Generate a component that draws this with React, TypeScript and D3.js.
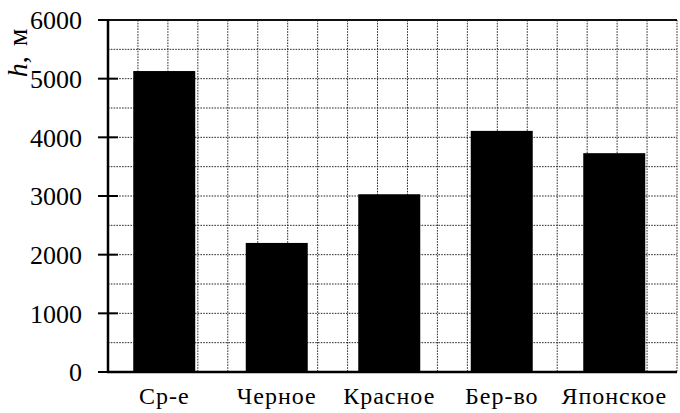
import React from "react";
import * as d3 from "d3";

// Mean sea depths, metres
const seas = ["Ср-е", "Черное", "Красное", "Бер-во", "Японское"];
const depths = [5130, 2200, 3030, 4110, 3730];
const yTicks = [0, 1000, 2000, 3000, 4000, 5000, 6000];
const yGridSteps = d3.range(0, 6001, 500);
const xGridSteps = d3.range(0, 20);

const W = 680;
const H = 413;
const left = 108;
const right = 677;
const top = 20;
const bottom = 372;

export default function App() {
  const y = d3.scaleLinear().domain([0, 6000]).range([bottom, top]);
  const x = d3
    .scaleBand<string>()
    .domain(seas)
    .range([left, 670.5])
    .paddingInner(0.449)
    .paddingOuter(0.2245);
  const gx = d3.scaleLinear().domain([0, 19]).range([left, right]);

  const font = "'Liberation Serif', 'Times New Roman', serif";
  const grid = { stroke: "#2a2a2a", strokeWidth: 1, strokeDasharray: "1.6,1.2" };

  return (
    <svg
      width={W}
      height={H}
      style={{ position: "absolute", left: 0, top: 0, background: "#fff" }}
      fontFamily={font}
    >
      {/* grid */}
      {xGridSteps.slice(1).map((i) => (
        <line key={"gx" + i} x1={gx(i)} x2={gx(i)} y1={top} y2={bottom} {...grid} />
      ))}
      {yGridSteps.slice(1, -1).map((v) => (
        <line key={"gy" + v} x1={left} x2={right} y1={y(v)} y2={y(v)} {...grid} />
      ))}

      {/* bars */}
      {seas.map((s, i) => (
        <rect
          key={s}
          x={x(s)}
          y={y(depths[i])}
          width={x.bandwidth()}
          height={y(0) - y(depths[i])}
          fill="#000"
        />
      ))}

      {/* frame and axes */}
      <line x1={left} x2={right} y1={top} y2={top} stroke="#111" strokeWidth={2} />
      <line x1={left} x2={left} y1={top - 1} y2={bottom + 1} stroke="#000" strokeWidth={2.5} />
      <line x1={left - 1} x2={right} y1={bottom} y2={bottom} stroke="#000" strokeWidth={2.5} />

      {yTicks.map((v) => (
        <g key={"t" + v}>
          <line x1={98} x2={v === 6000 ? left : 118} y1={y(v)} y2={y(v)} stroke="#000" strokeWidth={2} />
          <text x={82} y={y(v)} dy="0.36em" textAnchor="end" fontSize={26} fill="#000">
            {v}
          </text>
        </g>
      ))}

      {seas.map((s) => (
        <text
          key={"l" + s}
          x={(x(s) as number) + x.bandwidth() / 2}
          y={404}
          textAnchor="middle"
          fontSize={24}
          letterSpacing={1}
          fill="#000"
        >
          {s}
        </text>
      ))}

      {/* axis title */}
      <text
        transform="translate(27,53) rotate(-90)"
        textAnchor="middle"
        fontSize={28}
        fill="#000"
      >
        <tspan fontStyle="italic">h</tspan>
        <tspan>,</tspan>
        <tspan dx={10}>м</tspan>
      </text>
    </svg>
  );
}
